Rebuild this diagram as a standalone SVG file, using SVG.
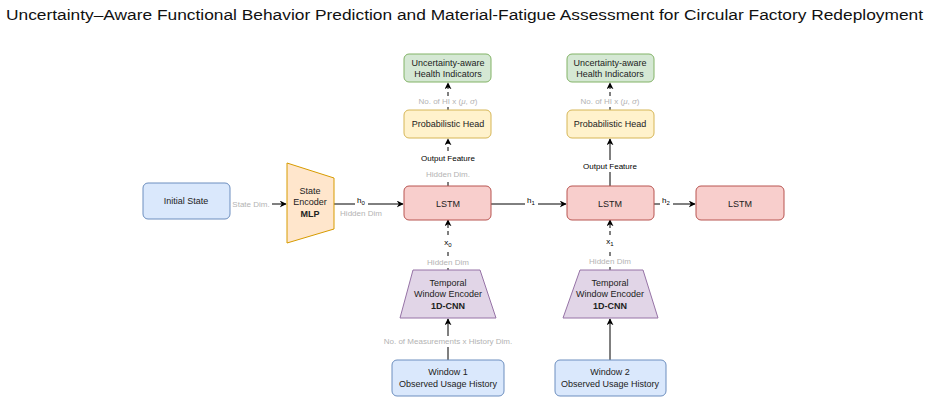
<svg xmlns="http://www.w3.org/2000/svg" width="929" height="406" viewBox="0 0 929 406">
<defs>
<marker id="a" viewBox="0 0 10 10" refX="9" refY="5" markerWidth="7" markerHeight="7" orient="auto"><path d="M0,0 L10,5 L0,10 L3,5 z" fill="#000"/></marker>
<style>
text{font-family:"Liberation Sans",Arial,sans-serif;font-size:9px;fill:#222;text-anchor:middle}
.g{fill:#b3b3b3;font-size:8px}
.l{fill:#000;font-size:8px}
.b{font-weight:bold}
line,path.c{stroke:#000;stroke-width:1;fill:none}
.d{stroke-dasharray:4 3}
</style>
</defs>
<rect width="929" height="406" fill="#fff"/>
<text x="6" y="20" textLength="917" lengthAdjust="spacingAndGlyphs" style="font-size:14px;fill:#111;text-anchor:start">Uncertainty–Aware Functional Behavior Prediction and Material-Fatigue Assessment for Circular Factory Redeployment</text>
<g id="connectors">
<line x1="230" y1="204" x2="286" y2="204" marker-end="url(#a)"/>
<line x1="334" y1="204" x2="403" y2="204" marker-end="url(#a)"/>
<line x1="491" y1="204" x2="566" y2="204" marker-end="url(#a)"/>
<line x1="654" y1="204" x2="695" y2="204" marker-end="url(#a)"/>
<line x1="448" y1="186" x2="448" y2="139" class="d" marker-end="url(#a)"/>
<line x1="448" y1="110" x2="448" y2="83" class="d" marker-end="url(#a)"/>
<line x1="610" y1="186" x2="610" y2="139" marker-end="url(#a)"/>
<line x1="610" y1="110" x2="610" y2="83" class="d" marker-end="url(#a)"/>
<line x1="448" y1="270" x2="448" y2="220" class="d" marker-end="url(#a)"/>
<line x1="610" y1="270" x2="610" y2="220" class="d" marker-end="url(#a)"/>
<line x1="448" y1="360" x2="448" y2="319" marker-end="url(#a)"/>
<line x1="610" y1="360" x2="610" y2="319" marker-end="url(#a)"/>
<rect x="230" y="198" width="42" height="11" fill="#fff"/>
<text x="251" y="207" class="g">State Dim.</text>
<rect x="355" y="196" width="13" height="12" fill="#fff"/>
<text x="361" y="203" class="l">h<tspan font-size="6" dy="2">0</tspan></text>
<text x="361" y="216" class="g">Hidden Dim</text>
<rect x="525" y="196" width="13" height="12" fill="#fff"/>
<text x="531" y="203" class="l">h<tspan font-size="6" dy="2">1</tspan></text>
<rect x="660" y="196" width="13" height="12" fill="#fff"/>
<text x="666" y="203" class="l">h<tspan font-size="6" dy="2">2</tspan></text>
<rect x="418" y="153" width="60" height="26" fill="#fff"/>
<text x="448" y="161" class="l">Output Feature</text>
<text x="448" y="177" class="g">Hidden Dim.</text>
<rect x="580" y="160" width="60" height="12" fill="#fff"/>
<text x="610" y="169" class="l">Output Feature</text>
<rect x="410" y="96" width="76" height="11" fill="#fff"/>
<text x="448" y="104" class="g">No. of HI x (<tspan font-style="italic">μ</tspan>, <tspan font-style="italic">σ</tspan>)</text>
<rect x="572" y="96" width="76" height="11" fill="#fff"/>
<text x="610" y="104" class="g">No. of HI x (<tspan font-style="italic">μ</tspan>, <tspan font-style="italic">σ</tspan>)</text>
<rect x="440" y="236" width="16" height="14" fill="#fff"/>
<text x="448" y="245" class="l">x<tspan font-size="6" dy="2">0</tspan></text>
<rect x="425" y="257" width="46" height="11" fill="#fff"/>
<text x="448" y="265" class="g">Hidden Dim</text>
<rect x="602" y="235" width="16" height="14" fill="#fff"/>
<text x="610" y="244" class="l">x<tspan font-size="6" dy="2">1</tspan></text>
<rect x="587" y="256" width="46" height="11" fill="#fff"/>
<text x="610" y="264" class="g">Hidden Dim</text>
<rect x="378" y="336" width="140" height="11" fill="#fff"/>
<text x="448" y="344" class="g">No. of Measurements x History Dim.</text>
</g>
<g id="initial"><rect x="143" y="183" width="87" height="36" rx="5" fill="#dae8fc" stroke="#6c8ebf"/><text x="186" y="204">Initial State</text></g>
<g id="encoder"><path d="M287,163 L334,178 L334,229 L287,243 Z" fill="#ffe6cc" stroke="#d79b00"/><text x="310" y="194">State</text><text x="310" y="205">Encoder</text><text x="310" y="217" class="b">MLP</text></g>
<g id="lstm1"><rect x="404" y="186" width="87" height="34" rx="5" fill="#f8cecc" stroke="#b85450"/><text x="448" y="207">LSTM</text></g>
<g id="lstm2"><rect x="567" y="186" width="87" height="34" rx="5" fill="#f8cecc" stroke="#b85450"/><text x="610" y="207">LSTM</text></g>
<g id="lstm3"><rect x="696" y="186" width="88" height="34" rx="5" fill="#f8cecc" stroke="#b85450"/><text x="740" y="207">LSTM</text></g>
<g id="head1"><rect x="404" y="110" width="87" height="28" rx="5" fill="#fff2cc" stroke="#d6b656"/><text x="448" y="127">Probabilistic Head</text></g>
<g id="head2"><rect x="567" y="110" width="87" height="28" rx="5" fill="#fff2cc" stroke="#d6b656"/><text x="610" y="127">Probabilistic Head</text></g>
<g id="hi1"><rect x="404" y="54" width="87" height="28" rx="5" fill="#d5e8d4" stroke="#82b366"/><text x="448" y="66">Uncertainty-aware</text><text x="448" y="77">Health Indicators</text></g>
<g id="hi2"><rect x="567" y="54" width="87" height="28" rx="5" fill="#d5e8d4" stroke="#82b366"/><text x="610" y="66">Uncertainty-aware</text><text x="610" y="77">Health Indicators</text></g>
<g id="cnn1"><path d="M413,270 L480,270 L496,318 L400,318 Z" fill="#e1d5e7" stroke="#9673a6"/><text x="448" y="286">Temporal</text><text x="448" y="297">Window Encoder</text><text x="448" y="309" class="b">1D-CNN</text></g>
<g id="cnn2"><path d="M580,270 L643,270 L658,318 L563,318 Z" fill="#e1d5e7" stroke="#9673a6"/><text x="610" y="286">Temporal</text><text x="610" y="297">Window Encoder</text><text x="610" y="309" class="b">1D-CNN</text></g>
<g id="win1"><rect x="392" y="360" width="112" height="36" rx="5" fill="#dae8fc" stroke="#6c8ebf"/><text x="448" y="375">Window 1</text><text x="448" y="387">Observed Usage History</text></g>
<g id="win2"><rect x="555" y="360" width="111" height="36" rx="5" fill="#dae8fc" stroke="#6c8ebf"/><text x="610" y="375">Window 2</text><text x="610" y="387">Observed Usage History</text></g>
</svg>
